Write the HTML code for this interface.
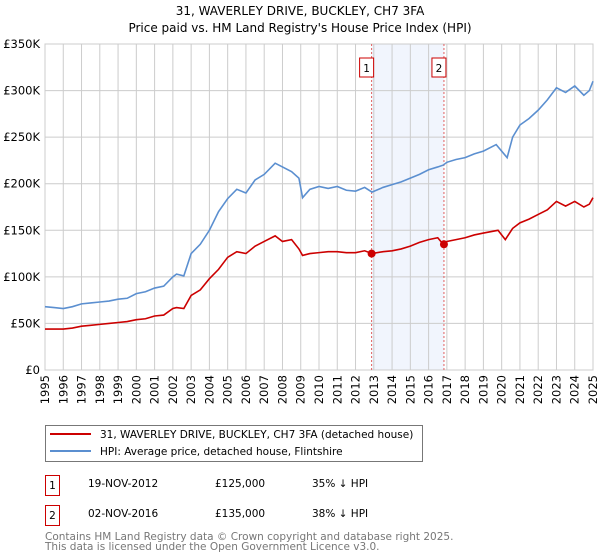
<!DOCTYPE html>
<html><head><meta charset="utf-8"><style>
body{margin:0;background:#fff}
svg{display:block;font-family:"DejaVu Sans","Liberation Sans",sans-serif}
</style></head><body>
<svg id="c" width="600" height="560" xmlns="http://www.w3.org/2000/svg">
<text x="300" y="15" text-anchor="middle" font-size="12">31, WAVERLEY DRIVE, BUCKLEY, CH7 3FA</text>
<text x="300" y="32" text-anchor="middle" font-size="12">Price paid vs. HM Land Registry's House Price Index (HPI)</text>
<g id="grid"></g>
<g id="marks"></g>
<g>
<rect x="45.5" y="425.5" width="377" height="36" fill="#fff" stroke="#777"/>
<line x1="50" y1="434" x2="91" y2="434" stroke="#cc0000" stroke-width="2"/>
<text x="100" y="438" font-size="10.5">31, WAVERLEY DRIVE, BUCKLEY, CH7 3FA (detached house)</text>
<line x1="50" y1="451" x2="91" y2="451" stroke="#5b8fd0" stroke-width="2"/>
<text x="100" y="455" font-size="10.5">HPI: Average price, detached house, Flintshire</text>
</g>
<g font-size="10.5">
<rect x="45.5" y="475.5" width="14" height="20" fill="#fff" stroke="#cc0000"/>
<text x="52.5" y="489" text-anchor="middle">1</text>
<text x="88" y="487">19-NOV-2012</text>
<text x="215" y="487">£125,000</text>
<text x="312" y="487">35% ↓ HPI</text>
<rect x="45.5" y="505.5" width="14" height="20" fill="#fff" stroke="#cc0000"/>
<text x="52.5" y="519" text-anchor="middle">2</text>
<text x="88" y="517">02-NOV-2016</text>
<text x="215" y="517">£135,000</text>
<text x="312" y="517">38% ↓ HPI</text>
</g>
<text x="45" y="540" font-size="10.5" fill="#777">Contains HM Land Registry data © Crown copyright and database right 2025.</text>
<text x="45" y="550" font-size="10.5" fill="#777">This data is licensed under the Open Government Licence v3.0.</text>
</svg>
<script>
const hpiYears=[1995,1995.5,1996,1996.5,1997,1997.5,1998,1998.5,1999,1999.5,2000,2000.5,2001,2001.5,2002,2002.2,2002.6,2003,2003.5,2004,2004.5,2005,2005.5,2006,2006.5,2007,2007.6,2008,2008.5,2008.9,2009.1,2009.5,2010,2010.5,2011,2011.5,2012,2012.5,2012.9,2013.5,2014,2014.5,2015,2015.5,2016,2016.5,2016.8,2017,2017.5,2018,2018.5,2019,2019.7,2020.3,2020.6,2021,2021.5,2022,2022.5,2023,2023.5,2024,2024.5,2024.8,2025];
const hpiValues=[68,67,66,68,71,72,73,74,76,77,82,84,88,90,100,103,101,125,135,150,170,184,194,190,204,210,222,218,213,206,185,194,197,195,197,193,192,196,191,196,199,202,206,210,215,218,220,223,226,228,232,235,242,228,250,263,270,279,290,303,298,305,295,300,310];
const priceYears=[1995,1995.5,1996,1996.5,1997,1997.5,1998,1998.5,1999,1999.5,2000,2000.5,2001,2001.5,2002,2002.2,2002.6,2003,2003.5,2004,2004.5,2005,2005.5,2006,2006.5,2007,2007.6,2008,2008.5,2008.9,2009.1,2009.5,2010,2010.5,2011,2011.5,2012,2012.5,2012.9,2013.5,2014,2014.5,2015,2015.5,2016,2016.5,2016.8,2017,2017.5,2018,2018.5,2019,2019.8,2020.2,2020.6,2021,2021.5,2022,2022.5,2023,2023.5,2024,2024.5,2024.8,2025];
const priceValues=[44,44,44,45,47,48,49,50,51,52,54,55,58,59,66,67,66,80,86,98,108,121,127,125,133,138,144,138,140,130,123,125,126,127,127,126,126,128,125,127,128,130,133,137,140,142,135,138,140,142,145,147,150,140,152,158,162,167,172,181,176,181,175,178,185];
const yTicks=[0,50,100,150,200,250,300,350];
const yTickLabels=["£0","£50K","£100K","£150K","£200K","£250K","£300K","£350K"];
const xTicks=[1995,1996,1997,1998,1999,2000,2001,2002,2003,2004,2005,2006,2007,2008,2009,2010,2011,2012,2013,2014,2015,2016,2017,2018,2019,2020,2021,2022,2023,2024,2025];
const sales=[2012.88,2016.84];
const salePrices=[125,135];
const saleLabels=["1","2"];
const NS="http://www.w3.org/2000/svg";
const X=y=>45+(y-1995)*(548/30);
const Y=v=>370-v*(326/350);
function mk(t,a,p){const e=document.createElementNS(NS,t);for(const k in a)e.setAttribute(k,a[k]);p.appendChild(e);return e;}
const grid=document.getElementById('grid'),marks=document.getElementById('marks');
const sh=mk('rect',{x:X(sales[0]),y:44,width:X(sales[1])-X(sales[0]),height:326,fill:'#eef3fc',opacity:0.8},grid);


yTicks.forEach((v,i)=>{
 const l=mk('line',{x1:45,x2:593,y1:Y(v),y2:Y(v),stroke:'#ccc'},grid);
 
 
 const t=mk('text',{x:40,y:Y(v)+4,'text-anchor':'end','font-size':'11.5'},grid);
 
 
 t.textContent=yTickLabels[i];
});
xTicks.forEach(yr=>{
 const l=mk('line',{x1:X(yr),x2:X(yr),y1:44,y2:370,stroke:'#ccc'},grid);
 
 
 const g=mk('g',{transform:'translate('+(X(yr)+4)+',375) rotate(-90)'},grid);
 g.style.transform='translate('+(X(yr)+4)+'px,375px) rotate(-90deg)';
 const t=mk('text',{x:0,y:0,'text-anchor':'end','font-size':'11.5'},g);
 
 
 t.textContent=yr;
});
const fr=mk('rect',{x:45,y:44,width:548,height:326,fill:'none',stroke:'#ccc'},grid);


sales.forEach((s,i)=>{
 const l=mk('line',{x1:X(s),x2:X(s),y1:44,y2:370,stroke:'#e06060','stroke-dasharray':'2,2'},marks);
 
 
 const b=mk('rect',{x:X(s)-12,y:58,width:14,height:19,fill:'#fff',stroke:'#cc0000'},marks);
 
 
 const t=mk('text',{x:X(s)-5,y:72,'text-anchor':'middle','font-size':'10.5'},marks);
 
 
 t.textContent=saleLabels[i];
});
const hp=mk('polyline',{points:hpiYears.map((y,i)=>X(y)+','+Y(hpiValues[i])).join(' '),fill:'none',stroke:'#5b8fd0','stroke-width':1.6},marks);


const pp=mk('polyline',{points:priceYears.map((y,i)=>X(y)+','+Y(priceValues[i])).join(' '),fill:'none',stroke:'#cc0000','stroke-width':1.6},marks);


sales.forEach((s,i)=>{
 const c=mk('circle',{cx:X(s),cy:Y(salePrices[i]),r:4,fill:'#cc0000'},marks);
 
 
});
</script>
</body></html>
